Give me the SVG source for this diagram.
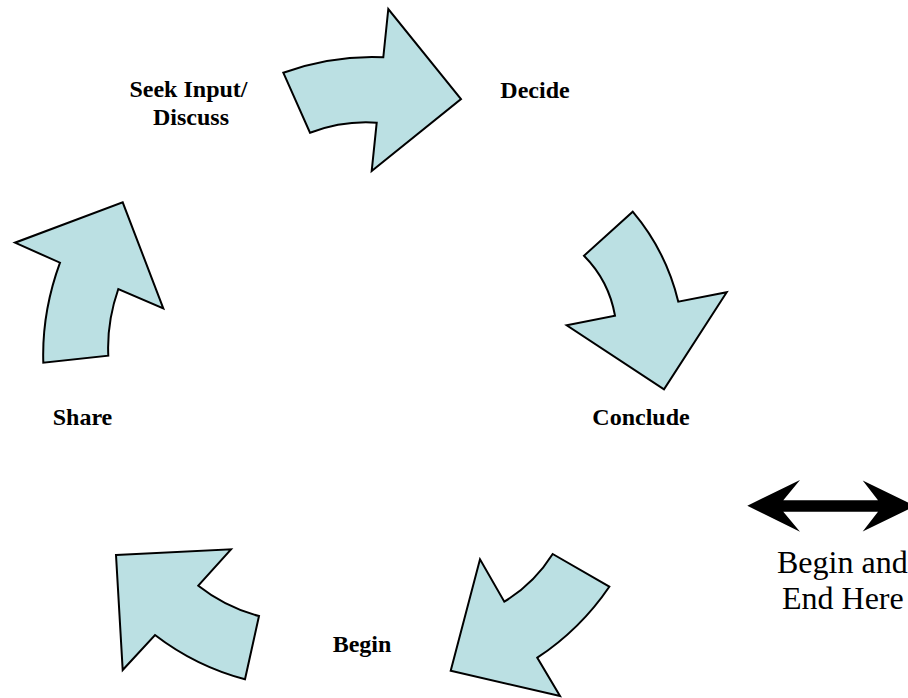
<svg xmlns="http://www.w3.org/2000/svg" width="908" height="698" viewBox="0 0 908 698">
<style>
.arr{fill:#bbe0e3;stroke:#000;stroke-width:2;stroke-linejoin:miter}
.lbl{font-family:"Liberation Serif","Times New Roman",serif;font-weight:bold;font-size:24px;fill:#000;text-anchor:middle}
.note{font-family:"Liberation Serif","Times New Roman",serif;font-size:32px;fill:#000}
</style>
<rect width="908" height="698" fill="#fff"/>
<g id="connectors">
<path id="arrow-seek-decide" class="arr" d="M283.3,72.7 Q333.3,55 383.3,57.3 L388.3,9 L461,99 L371.7,171 L376.7,122.7 Q343.3,120.3 310,132.7 Z"/>
<path id="arrow-decide-conclude" class="arr" d="M632.7,211.7 Q666.2,251.3 678.3,301.7 L726.7,292.3 L664,389.3 L566.7,325.3 L615,315.7 Q608.9,280.8 584,255.7 Z"/>
<path id="arrow-conclude-begin" class="arr" d="M552.7,554 L609.3,586.7 Q580.3,629.3 537.3,657.7 L560,696 L450.7,670.7 L480,559.3 L504.3,601.7 Q534.1,583.6 552.7,554 Z"/>
<path id="arrow-begin-share" class="arr" d="M116,555 L231,549.3 L198.3,585.7 Q225.5,607.2 259,616 L245,679.3 Q195.6,666.2 155,635 L122.7,670 Z"/>
<path id="arrow-share-seek" class="arr" d="M43.3,362.7 Q41.7,312.7 60,262.7 L15,242.7 L122.7,202.3 L163.3,308.3 L118.3,289 Q106.7,322.3 108.3,355.7 Z"/>
</g>
<g id="node-seek"><text class="lbl" x="188.5" y="97">Seek Input/</text><text class="lbl" x="191" y="125">Discuss</text></g>
<g id="node-decide"><text class="lbl" x="535" y="98">Decide</text></g>
<g id="node-conclude"><text class="lbl" x="641" y="425">Conclude</text></g>
<g id="node-begin"><text class="lbl" x="362" y="652">Begin</text></g>
<g id="node-share"><text class="lbl" x="82.5" y="425">Share</text></g>
<g id="node-legend">
<path d="M747.3,505.8 L800,480 L783.3,500.2 L878,500.2 L862.7,480.5 L915,506 L862.7,531.5 L878,511.8 L783.3,511.8 L800,531.7 Z" fill="#000"/>
<text class="note" x="777" y="573">Begin and</text>
<text class="note" x="782" y="609">End Here</text>
</g>
</svg>
